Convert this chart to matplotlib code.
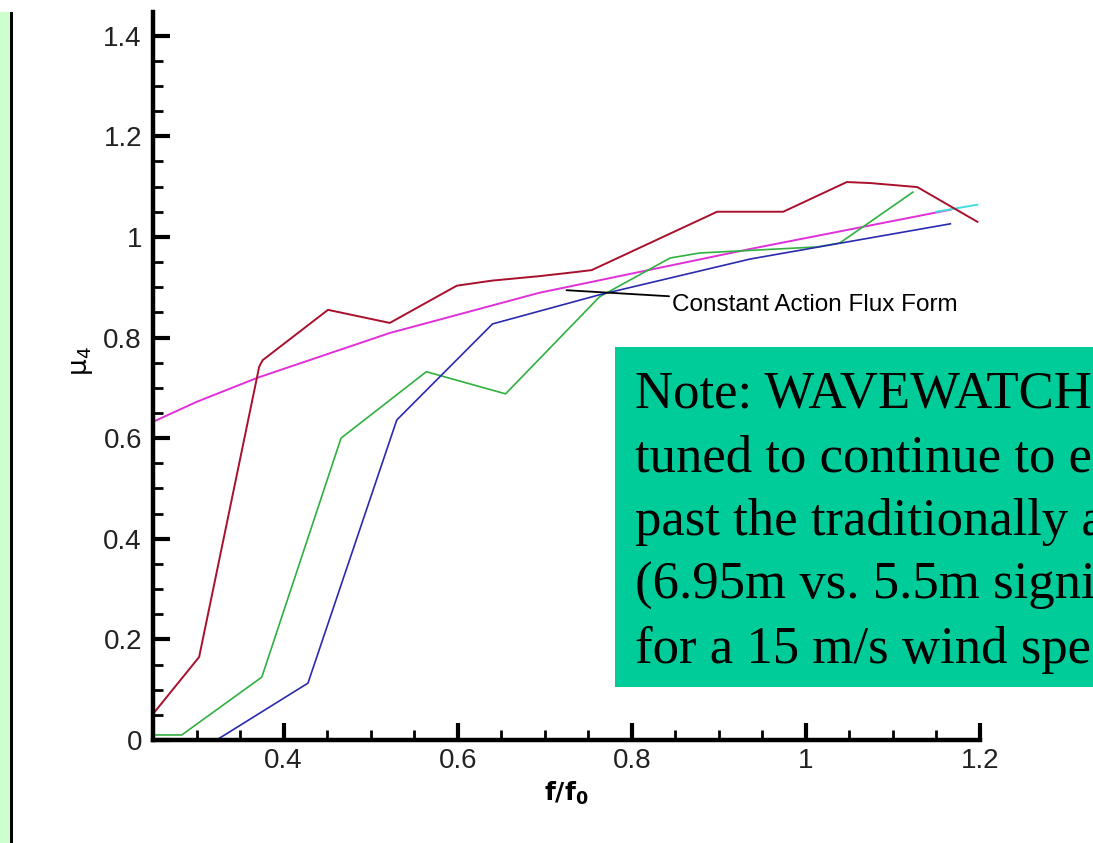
import matplotlib
matplotlib.use("Agg")
import matplotlib.pyplot as plt
from matplotlib.patches import Rectangle
from matplotlib.ticker import MultipleLocator, FuncFormatter

# values
red_x = [0.252, 0.303, 0.372, 0.376, 0.451, 0.522, 0.599, 0.639, 0.694, 0.735, 0.754,
         0.898, 0.974, 1.047, 1.074, 1.128, 1.197]
red_y = [0.056, 0.165, 0.742, 0.755, 0.855, 0.829, 0.903, 0.913, 0.922, 0.930, 0.934,
         1.050, 1.050, 1.109, 1.107, 1.099, 1.030]

green_x = [0.252, 0.283, 0.375, 0.466, 0.564, 0.655, 0.763, 0.844, 0.878, 1.013, 1.039, 1.123]
green_y = [0.010, 0.010, 0.125, 0.600, 0.732, 0.688, 0.881, 0.958, 0.968, 0.980, 0.988, 1.089]

blue_x = [0.323, 0.428, 0.530, 0.640, 0.763, 0.936, 1.166]
blue_y = [0.000, 0.113, 0.636, 0.827, 0.885, 0.956, 1.026]

flux_x = [0.252, 0.300, 0.370, 0.522, 0.694, 0.936, 1.166]
flux_y = [0.634, 0.672, 0.720, 0.809, 0.889, 0.976, 1.054]

cyan_x = [1.150, 1.197]
cyan_y = [1.050, 1.064]

note_lines = ["Note: WAVEWATCH", "tuned to continue to e", "past the traditionally a",
              "(6.95m vs. 5.5m signi", "for a 15 m/s wind spe"]

W, H = 1093, 843
fig = plt.figure(figsize=(W / 100, H / 100), dpi=100)
fig.patch.set_facecolor("white")

# page frame on the left
fig.patches.append(Rectangle((0, 0), 10 / W, 1 - 12 / H, transform=fig.transFigure,
                             facecolor="#ccffcc", edgecolor="none", zorder=0))
fig.patches.append(Rectangle((10 / W, 0), 3 / W, 1 - 12 / H, transform=fig.transFigure,
                             facecolor="black", edgecolor="none", zorder=0))

ax = fig.add_axes([153 / W, 1 - 740 / H, (980 - 153) / W, (740 - 12) / H])
ax.set_facecolor("none")

ax.plot(flux_x, flux_y, color="#e030d8", lw=1.4)
ax.plot(cyan_x, cyan_y, color="#40dede", lw=1.4)
ax.plot(red_x, red_y, color="#a8102c", lw=1.4)
ax.plot(green_x, green_y, color="#30b040", lw=1.2)
ax.plot(blue_x, blue_y, color="#2a2ab0", lw=1.2)

ax.set_xlim(0.25, 1.2)
ax.set_ylim(0, 1.447)

for s in ["top", "right"]:
    ax.spines[s].set_visible(False)
for s in ["left", "bottom"]:
    ax.spines[s].set_linewidth(3.2)

ax.xaxis.set_major_locator(MultipleLocator(0.2))
ax.xaxis.set_minor_locator(MultipleLocator(0.05))
ax.yaxis.set_major_locator(MultipleLocator(0.2))
ax.yaxis.set_minor_locator(MultipleLocator(0.05))

fmt = FuncFormatter(lambda v, p: "{:g}".format(round(v, 2)))
ax.xaxis.set_major_formatter(fmt)
ax.yaxis.set_major_formatter(fmt)

ax.tick_params(axis="both", which="major", direction="in", length=12, width=3,
               labelsize=20, labelcolor="#222222")
ax.tick_params(axis="both", which="minor", direction="in", length=7, width=2)
ax.tick_params(axis="y", which="major", pad=8)
ax.tick_params(axis="x", which="major", pad=6)
for lab in ax.get_xticklabels() + ax.get_yticklabels():
    lab.set_family(["Liberation Sans", "DejaVu Sans"])

ax.set_xlabel(r"$\mathbf{f/f_0}$", fontsize=18)
ax.xaxis.set_label_coords(0.5, -0.055)
ax.set_ylabel(r"$\mathrm{\mu}_4$", fontsize=19)
ax.yaxis.set_label_coords(-0.07, 0.52)

ax.annotate("Constant Action Flux Form", xy=(0.725, 0.894), xytext=(0.846, 0.865),
            fontsize=17.5, family=["Liberation Sans", "DejaVu Sans"], va="center",
            arrowprops=dict(arrowstyle="-", color="black", lw=1.3,
                            shrinkA=0, shrinkB=0))

# green note box
fig.patches.append(Rectangle((615 / W, 1 - 687 / H), (W - 615) / W, (687 - 347) / H,
                             transform=fig.transFigure, facecolor="#00cc99",
                             edgecolor="none", zorder=5))
baselines = [408, 472, 535, 599, 663]
for txt, b in zip(note_lines, baselines):
    fig.text(635 / W, 1 - b / H, txt, fontsize=38, va="baseline", ha="left",
             family=["Liberation Serif", "DejaVu Serif"], color="black", zorder=6)

fig.savefig("out.png", dpi=100)
